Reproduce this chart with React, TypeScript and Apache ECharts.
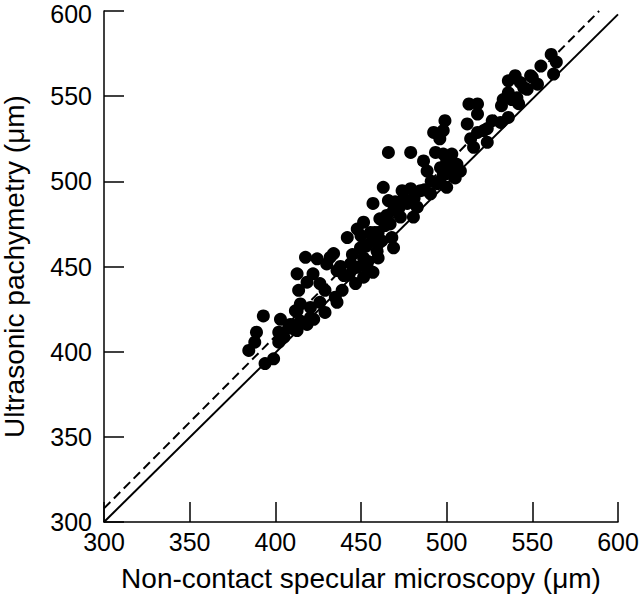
import React, { useEffect, useRef } from "react";
import * as echarts from "echarts";

const xTicks = [300, 350, 400, 450, 500, 550, 600];
const yTicks = [300, 350, 400, 450, 500, 550, 600];

const equalityLine = [
  [300, 300],
  [600, 598],
];
const regressionLine = [
  [300, 308],
  [589, 600],
];

const measurements = [
  [384.5, 400.7], [388, 405.6], [389, 411.4], [393, 421], [394, 393], [399, 395.8],
  [402, 405.6], [402, 411.4], [403, 419], [405, 408.5], [407.8, 414], [408.8, 416],
  [410.7, 413.4], [411.7, 424], [412.7, 412.4], [412.7, 424], [412.7, 445.7], [413.6, 436],
  [414.6, 428], [414.6, 418], [417.6, 455.4], [418.5, 440.8], [418.5, 416], [420.5, 426],
  [420.5, 420], [422, 445.7], [422.4, 419], [424.4, 454.5], [426, 429], [429, 436],
  [429, 423], [430, 451.5], [434, 457.6], [436, 429], [432, 455.4], [436, 447.6],
  [440, 444.7], [439, 436], [435, 432], [442, 467], [444, 451.7], [446.8, 440],
  [447.8, 449.6], [447.8, 472], [449.7, 461], [451.5, 455], [451.5, 443.7], [451.5, 476],
  [453.6, 449.6], [455.5, 470], [456.5, 465], [457, 446.6], [457, 487], [459.4, 459],
  [460, 455], [461, 478], [463, 496.5], [464, 474], [466, 488.7], [466, 517],
  [468, 467], [469, 483], [469, 461], [473, 479], [474, 494.5], [477, 487],
  [479, 495.7], [479, 517], [480.6, 479], [482.8, 484.8], [484.7, 494.5], [486.5, 512],
  [488.6, 506], [490.6, 492.7], [494.5, 498.6], [498, 504], [500, 512], [504, 508],
  [445, 457], [450, 468], [453, 462], [458, 470], [462, 465], [465, 480],
  [467, 475], [470, 488], [472, 484], [475, 490], [481, 490], [487, 495],
  [491, 500], [454, 453], [443, 445], [426, 440], [438, 450], [460, 470],
];

const measurementsUpper = [
  [492.4, 528.7], [493.5, 517], [496, 525], [496, 500], [496.4, 508], [498, 516],
  [498, 529.8], [499, 535.6], [500, 496.5], [500, 504.5], [502, 511], [503, 516],
  [505, 502], [506, 510], [508, 506], [512, 533.7], [513, 545.4], [514, 525],
  [515.7, 520], [518, 545.4], [518, 539.5], [518, 528.7], [521.6, 529.8], [523.7, 531],
  [523.7, 522.9], [526.6, 535.6], [531.5, 534.6], [532, 544.4], [533, 548], [536, 537.5],
  [536, 552], [536, 559], [538, 548], [540, 562], [541, 549], [542, 545.6],
  [543, 558], [545, 555], [547, 554], [549, 562], [550, 561], [553, 557],
  [555, 567.7], [561, 574.5], [562.4, 563], [564, 570],
];

const FONT = "Liberation Sans";

export default function App() {
  const ref = useRef<HTMLDivElement>(null);
  useEffect(() => {
    if (!ref.current) return;
    const chart = echarts.init(ref.current, null, { renderer: "svg" });
    const axisCommon = {
      type: "value" as const,
      min: 300,
      max: 600,
      interval: 50,
      axisLine: { show: true, onZero: false, lineStyle: { color: "#000", width: 1.5 } },
      axisTick: { show: true, inside: true, length: 20, lineStyle: { color: "#000", width: 1.5 } },
      splitLine: { show: false },
      nameLocation: "middle" as const,
      nameTextStyle: { fontFamily: FONT, fontSize: 28, color: "#000" },
    };
    const yMax = yTicks[yTicks.length - 1];
    chart.setOption({
      animation: false,
      backgroundColor: "#fff",
      grid: {
        left: 104,
        top: 11,
        width: 514,
        height: 511,
        containLabel: false,
        outerBoundsMode: "none",
      },
      xAxis: {
        ...axisCommon,
        name: "Non-contact specular microscopy (μm)",
        nameGap: 42,
        axisLabel: {
          fontFamily: FONT,
          fontSize: 25,
          color: "#000",
          margin: 7,
          formatter: (v: number) => (xTicks.includes(v) ? String(v) : ""),
        },
      },
      yAxis: {
        ...axisCommon,
        name: "Ultrasonic pachymetry (μm)",
        nameGap: 76,
        axisLabel: {
          fontFamily: FONT,
          fontSize: 25,
          color: "#000",
          margin: 12,
          formatter: (v: number) =>
            v === yMax ? `{top|${v}}` : yTicks.includes(v) ? String(v) : "",
          rich: {
            top: {
              fontFamily: FONT,
              fontSize: 25,
              color: "#000",
              padding: [6, 0, 0, 0],
            },
          },
        },
      },
      series: [
        {
          type: "line",
          data: equalityLine,
          symbol: "none",
          lineStyle: { color: "#000", width: 2 },
          z: 1,
        },
        {
          type: "line",
          data: regressionLine,
          symbol: "none",
          lineStyle: { color: "#000", width: 2, type: [9, 5] },
          z: 1,
        },
        {
          type: "scatter",
          data: measurements.concat(measurementsUpper),
          symbol: "circle",
          symbolSize: 13,
          itemStyle: { color: "#000", opacity: 1 },
          z: 3,
        },
      ],
    });
    return () => chart.dispose();
  }, []);
  return <div ref={ref} style={{ width: 640, height: 600, position: "absolute", left: 0, top: 0 }} />;
}
